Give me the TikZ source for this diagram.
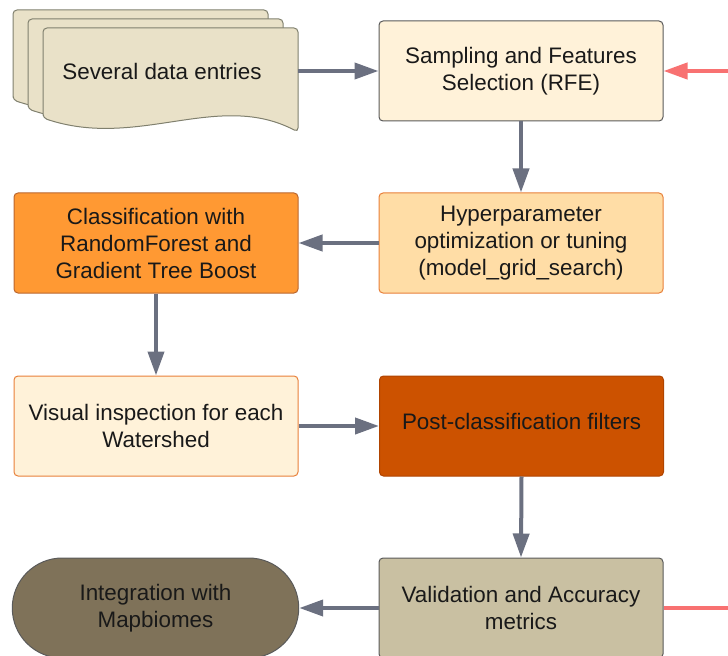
\documentclass[tikz,border=0pt]{standalone}
\usepackage{fontspec}
\setmainfont{Liberation Sans}
\usetikzlibrary{arrows.meta,shapes.misc}
\definecolor{docfill}{HTML}{E9E1C8}
\definecolor{docline}{HTML}{80806E}
\definecolor{cream}{HTML}{FFF2D9}
\definecolor{peach}{HTML}{FFDDA6}
\definecolor{orangeA}{HTML}{FF9933}
\definecolor{orangeLine}{HTML}{E8803A}
\definecolor{rust}{HTML}{CC5200}
\definecolor{rustLine}{HTML}{B04400}
\definecolor{khaki}{HTML}{C9C0A2}
\definecolor{olive}{HTML}{7F7259}
\definecolor{darkLine}{HTML}{5A5A5A}
\definecolor{arrowGray}{HTML}{6B7080}
\definecolor{redA}{HTML}{F87171}
\newcommand\docsheet[2]{%
  \draw[docline, fill=docfill, line width=0.75pt, rounded corners=3pt]
    (#1,#2+90) -- (#1,#2) -- (#1+255,#2) -- (#1+255,#2+104)
    .. controls (#1+175,#2+62) and (#1+95,#2+122) .. (#1,#2+90) -- cycle;}
\begin{document}
\begin{tikzpicture}[x=0.75pt, y=-0.75pt,
  every node/.style={font=\fontsize{16.8}{20.25}\selectfont, text=black!90, align=center},
  box/.style={rectangle, rounded corners=3pt, minimum width=213pt, minimum height=75pt, line width=0.75pt, inner sep=2pt},
  flow/.style={draw=arrowGray, line width=3pt, -{Triangle[length=18pt, width=12pt]}},
  redflow/.style={draw=redA, line width=3pt}
]
\useasboundingbox (0,0) rectangle (728,656);
% document stack
\docsheet{13}{10}
\docsheet{28}{19}
\docsheet{43}{28}
\node[minimum width=191pt, minimum height=60pt, inner sep=0pt] (doc) at (170.5,71) {};
\node (doclabel) at (162,71) {Several data entries};
% boxes
\node[box, draw=darkLine, fill=cream] (samp) at (521,71) {Sampling and Features\\Selection (RFE)};
\node[box, draw=orangeLine, fill=peach] (hyp) at (521,243) {Hyperparameter\\optimization or tuning\\(model\_grid\_search)};
\node[box, draw=orangeLine!80!black, fill=orangeA] (cls) at (156,243) {Classification with\\RandomForest and\\Gradient Tree Boost};
\node[box, draw=orangeLine, fill=cream] (vis) at (156,426) {Visual inspection for each\\Watershed};
\node[box, draw=rustLine, fill=rust] (post) at (521.5,426) {};
\node (postlabel) at (521.5,421) {Post-classification filters};
\node[box, draw=darkLine, fill=khaki] (val) at (521,608) {Validation and Accuracy\\metrics};
\node[rounded rectangle, draw=darkLine, fill=olive, minimum width=221.5pt, minimum height=75pt, line width=0.75pt] (integ) at (155.5,608) {Integration with\\Mapbiomes};
\coordinate (redin) at (728,71);
\coordinate (redout) at (728,608);
% connectors
\draw[flow] (doc.east) -- (samp.west);
\draw[flow] (samp.south) -- (hyp.north);
\draw[flow] (hyp.west) -- (cls.east);
\draw[flow] (cls.south) -- (vis.north);
\draw[flow] (vis.east) -- (post.west);
\draw[flow] (post.south) -- (val.north);
\draw[flow] (val.west) -- (integ.east);
\draw[redflow, -{Triangle[length=18pt, width=12pt]}] (redin) -- (samp.east);
\draw[redflow] (val.east) -- (redout);
\end{tikzpicture}
\end{document}
